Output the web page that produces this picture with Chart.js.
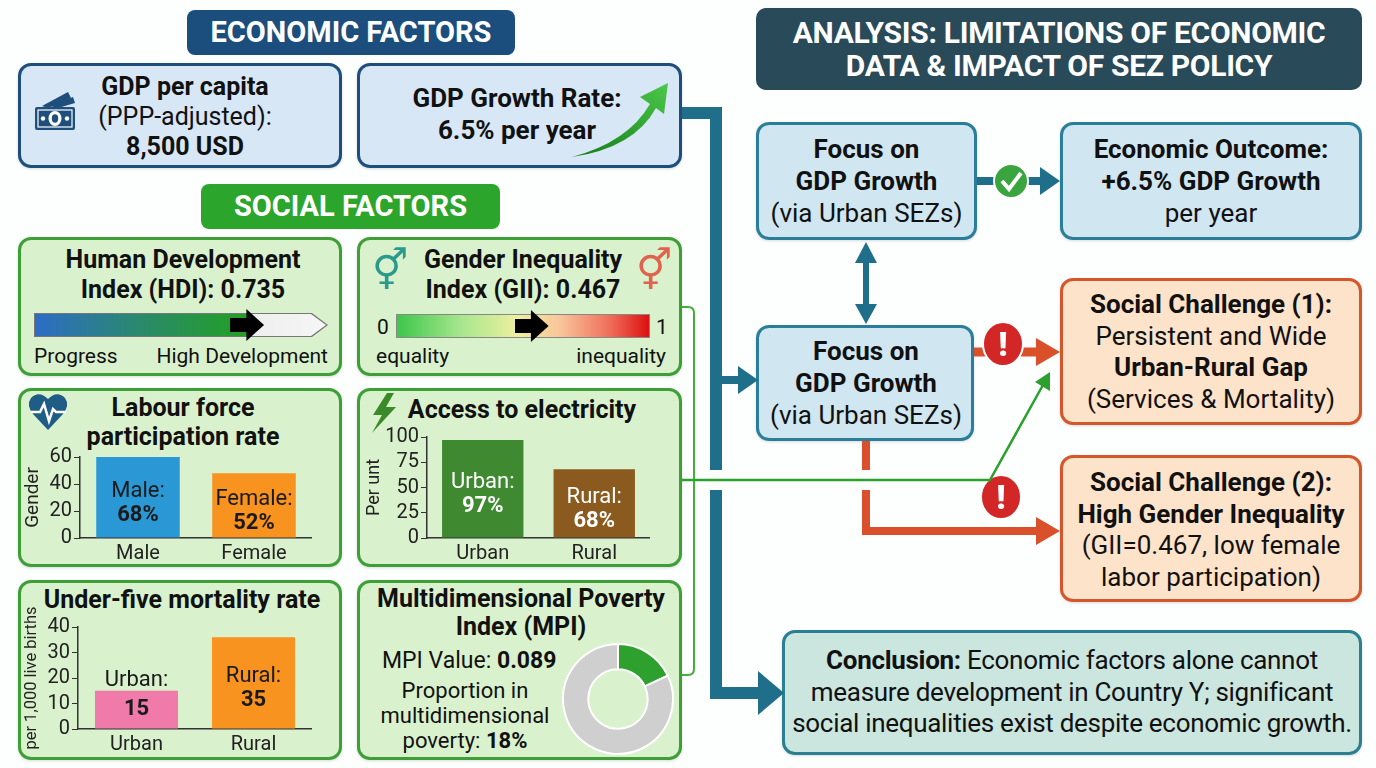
<!DOCTYPE html>
<html>
<head>
<meta charset="utf-8">
<script src="https://cdn.jsdelivr.net/npm/chart.js@4.4.0/dist/chart.umd.min.js"></script>
<style>
body{margin:0;background:#fff;font-family:Roboto,'Noto Sans',sans-serif;color:#111;}
#page{position:relative;width:1376px;height:768px;overflow:hidden;background:#fdfefe;}
.pill{position:absolute;color:#fff;font-weight:700;text-align:center;border-radius:8px;font-size:29px;}
.box{position:absolute;box-sizing:border-box;border-radius:13px;border:3px solid;box-shadow:0 1px 3px rgba(0,0,0,0.15);}
.eco{background:#d7e7f5;border-color:#1e4f7c;}
.soc{background:#d9f1cc;border-color:#3f9f37;}
.foc{background:#d0e6f1;border-color:#2b7e9a;}
.chl{background:#fde3c9;border-color:#d6562c;}
.con{background:#cbe6de;border-color:#2b7f90;}
.txt{position:absolute;text-align:center;font-size:25px;line-height:32px;white-space:nowrap;}
.small{position:absolute;font-size:21px;line-height:24px;white-space:nowrap;}
b{font-weight:700;}
.chart{position:absolute;}
.scalebar{position:absolute;height:24px;}
.marker{position:absolute;width:34px;height:32px;background:#000;
  clip-path:polygon(0 28%,48% 28%,48% 0,100% 50%,48% 100%,48% 72%,0 72%);}
svg{position:absolute;left:0;top:0;pointer-events:none;}
</style>
</head>
<body>
<div id="page">

  <div class="pill" style="left:187px;top:10px;width:328px;height:45px;line-height:45px;background:#1b4e7d;">ECONOMIC FACTORS</div>
  <div class="pill" style="left:201px;top:184px;width:299px;height:45px;line-height:45px;background:#2ca52c;">SOCIAL FACTORS</div>
  <div class="pill" style="left:756px;top:8px;width:606px;height:82px;line-height:33px;background:#284a59;padding-top:8px;box-sizing:border-box;border-radius:10px;font-size:30px;letter-spacing:-0.3px;">ANALYSIS: LIMITATIONS OF ECONOMIC<br>DATA &amp; IMPACT OF SEZ POLICY</div>

  <!-- economic boxes -->
  <div class="box eco" style="left:18px;top:63px;width:324px;height:105px;"></div>
  <div class="txt" style="left:20px;top:72px;width:330px;line-height:30px;font-size:25px;"><b>GDP per capita</b><br>(PPP-adjusted):<br><b>8,500 USD</b></div>
  <div class="box eco" style="left:357px;top:63px;width:325px;height:105px;"></div>
  <div class="txt" style="left:357px;top:82px;width:320px;font-size:26px;"><b>GDP Growth Rate:<br>6.5% per year</b></div>

  <!-- social boxes -->
  <div class="box soc" style="left:18px;top:237px;width:324px;height:139px;"></div>
  <div class="txt" style="left:18px;top:245px;width:330px;line-height:30px;"><b>Human Development<br>Index (HDI): 0.735</b></div>
  <div id="hdiBar" class="scalebar" style="left:34px;top:313px;width:294px;"></div>
  <div class="small" style="left:34px;top:344px;">Progress</div>
  <div class="small" style="left:150px;top:344px;width:178px;text-align:right;">High Development</div>

  <div class="box soc" style="left:357px;top:237px;width:325px;height:139px;"></div>
  <div class="txt" style="left:357px;top:245px;width:332px;line-height:30px;"><b>Gender Inequality<br>Index (GII): 0.467</b></div>
  <div id="giiBar" class="scalebar" style="left:396px;top:314px;width:254px;"></div>
  <div class="small" style="left:377px;top:315px;">0</div>
  <div class="small" style="left:656px;top:315px;">1</div>
  <div class="small" style="left:376px;top:344px;">equality</div>
  <div class="small" style="left:540px;top:344px;width:126px;text-align:right;">inequality</div>

  <div class="box soc" style="left:18px;top:388px;width:324px;height:179px;"></div>
  <div class="txt" style="left:18px;top:393px;width:330px;line-height:29px;"><b>Labour force<br>participation rate</b></div>
  <div class="chart" style="left:22px;top:443px;width:290px;height:125px;"><canvas id="laborChart"></canvas></div>

  <div class="box soc" style="left:357px;top:388px;width:325px;height:179px;"></div>
  <div class="txt" style="left:400px;top:394px;width:244px;"><b>Access to electricity</b></div>
  <div class="chart" style="left:364px;top:423px;width:286px;height:145px;"><canvas id="elecChart"></canvas></div>

  <div class="box soc" style="left:18px;top:580px;width:324px;height:180px;"></div>
  <div class="txt" style="left:18px;top:584px;width:328px;"><b>Under-five mortality rate</b></div>
  <div class="chart" style="left:22px;top:606px;width:290px;height:153px;"><canvas id="mortChart"></canvas></div>

  <div class="box soc" style="left:357px;top:580px;width:325px;height:180px;"></div>
  <div class="txt" style="left:357px;top:585px;width:328px;line-height:28px;"><b>Multidimensional Poverty<br>Index (MPI)</b></div>
  <div class="small" style="left:382px;top:649px;font-size:23px;">MPI Value: <b>0.089</b></div>
  <div class="small" style="left:380px;top:678px;width:170px;text-align:center;font-size:22px;line-height:25px;">Proportion in<br>multidimensional<br>poverty: <b>18%</b></div>
  <div class="chart" style="left:562px;top:643px;width:112px;height:112px;"><canvas id="mpiChart"></canvas></div>

  <!-- analysis side -->
  <div class="box foc" style="left:756px;top:122px;width:221px;height:118px;"></div>
  <div class="txt" style="left:756px;top:133px;width:221px;font-size:26px;"><b>Focus on<br>GDP Growth</b><br>(via Urban SEZs)</div>
  <div class="box foc" style="left:1060px;top:122px;width:302px;height:118px;"></div>
  <div class="txt" style="left:1060px;top:133px;width:302px;font-size:26px;"><b>Economic Outcome:<br>+6.5% GDP Growth</b><br>per year</div>
  <div class="box foc" style="left:756px;top:325px;width:218px;height:116px;"></div>
  <div class="txt" style="left:756px;top:335px;width:220px;font-size:26px;"><b>Focus on<br>GDP Growth</b><br>(via Urban SEZs)</div>

  <div class="box chl" style="left:1060px;top:278px;width:302px;height:147px;"></div>
  <div class="txt" style="left:1060px;top:289px;width:302px;font-size:26px;line-height:31.7px;"><b>Social Challenge (1):</b><br>Persistent and Wide<br><b>Urban-Rural Gap</b><br>(Services &amp; Mortality)</div>
  <div class="box chl" style="left:1060px;top:455px;width:302px;height:147px;"></div>
  <div class="txt" style="left:1060px;top:467px;width:302px;font-size:26px;line-height:31.7px;"><b>Social Challenge (2):<br>High Gender Inequality</b><br>(GII=0.467, low female<br>labor participation)</div>

  <div class="box con" style="left:782px;top:630px;width:580px;height:125px;"></div>
  <div class="txt" style="left:782px;top:645px;width:580px;font-size:26px;line-height:31.5px;letter-spacing:-0.3px;"><b>Conclusion:</b> Economic factors alone cannot<br>measure development in Country Y; significant<br>social inequalities exist despite economic growth.</div>

  <svg width="1376" height="768" viewBox="0 0 1376 768">
    <defs>
      <linearGradient id="gArrow" x1="0" y1="1" x2="1" y2="0">
        <stop offset="0" stop-color="#137a17"/>
        <stop offset="1" stop-color="#4cc84a"/>
      </linearGradient>
    </defs>
    <!-- green bracket and link -->
    <path d="M682 307 H688 Q694 307 694 313 V669 Q694 675 688 675 H682" fill="none" stroke="#45ad3a" stroke-width="2"/>
    <!-- teal trunk -->
    <path d="M682 113 H716 V470 M716 490 V693 H762" fill="none" stroke="#1f6f8a" stroke-width="12"/>
    <polygon points="758,671 784,693 758,715" fill="#1f6f8a"/>
    <path d="M722 380 H742" stroke="#1f6f8a" stroke-width="8"/>
    <polygon points="738,366 758,380 738,394" fill="#1f6f8a"/>
    <!-- double arrow -->
    <path d="M866 258 V309" stroke="#1f6f8a" stroke-width="6"/>
    <polygon points="855,263 866,242 877,263" fill="#1f6f8a"/>
    <polygon points="855,304 866,324 877,304" fill="#1f6f8a"/>
    <!-- focus1 -> outcome -->
    <path d="M977 181 H1042" stroke="#1f6f8a" stroke-width="8"/>
    <polygon points="1040,167 1060,181 1040,195" fill="#1f6f8a"/>
    <circle cx="1011" cy="181" r="17" fill="#3aa53e" stroke="#fff" stroke-width="2"/>
    <polyline points="1002,181 1009,189 1021,173" fill="none" stroke="#fff" stroke-width="4"/>
    <!-- red arrows -->
    <path d="M974 352 H1040" stroke="#d9502a" stroke-width="9"/>
    <polygon points="1036,338 1060,352 1036,366" fill="#d9502a"/>
    <path d="M866 441 V470 M866 490 V531 H1040" fill="none" stroke="#d9502a" stroke-width="8"/>
    <polygon points="1036,517 1060,531 1036,545" fill="#d9502a"/>
    <ellipse cx="1003" cy="344" rx="20" ry="22" fill="#d32626" stroke="#fff" stroke-width="2"/>
    <text x="1003" y="356" font-size="34" font-weight="900" fill="#fff" text-anchor="middle" font-family="Roboto">!</text>
    <ellipse cx="1001" cy="497" rx="20" ry="22" fill="#d32626" stroke="#fff" stroke-width="2"/>
    <text x="1001" y="509" font-size="34" font-weight="900" fill="#fff" text-anchor="middle" font-family="Roboto">!</text>
    <!-- green line to challenge 1 -->
    <polyline points="682,480 990,480 1043,385" fill="none" stroke="#2ca02c" stroke-width="2.5"/>
    <polygon points="1050,372 1050,391 1035,382" fill="#2ca02c"/>
    <!-- icons -->
    <g fill="#1d4e7c">
      <polygon points="42,106 68,92 71,98 48,108"/>
      <polygon points="50,106 73,97 75,103 58,108"/>
      <rect x="35" y="107" width="40" height="23" rx="2"/>
      <rect x="38" y="110" width="34" height="17" fill="none" stroke="#fff" stroke-width="1.2"/>
      <ellipse cx="55" cy="118.5" rx="6.5" ry="7.5" fill="#fff"/>
      <ellipse cx="55" cy="118.5" rx="3.2" ry="4.2"/>
      <circle cx="43" cy="118.5" r="2.2" fill="#fff"/>
      <circle cx="67" cy="118.5" r="2.2" fill="#fff"/>
    </g>
    <path d="M572 157 Q628 142 650 104 L640 97 L668 83 L664 114 L656 108 Q634 148 572 157 Z" fill="url(#gArrow)"/>
    <path d="M48 430 L33 414 Q26 405 31 398 Q39 390 48 399 Q57 390 65 398 Q70 405 63 414 Z" fill="#1f5c86"/>
    <polyline points="31,412 40,412 44,404 49,421 53,409 56,412 66,412" fill="none" stroke="#fff" stroke-width="2.5"/>
    <polygon points="387,393 373,415 382,415 372,433 396,407 386,407 394,393" fill="#3a8a2a"/>
    <text x="390" y="284" font-size="40" fill="#2a9a8c" text-anchor="middle" font-family="DejaVu Sans">⚥</text>
    <text x="654" y="284" font-size="40" fill="#e0634d" text-anchor="middle" font-family="DejaVu Sans">⚥</text>
  </svg>
</div>

<script>
// ---- data ----
const hdiValue = 0.735;
const giiValue = 0.467;

const laborLabels = ['Male', 'Female'];
const laborValues = [68, 48];
const laborNotes = ['68%', '52%'];

const elecLabels = ['Urban', 'Rural'];
const elecValues = [97, 68];
const elecNotes = ['97%', '68%'];

const mortLabels = ['Urban', 'Rural'];
const mortValues = [15, 36];
const mortNotes = ['15', '35'];

const mpiLabels = ['In poverty', 'Not in poverty'];
const mpiShares = [18, 82];

Chart.defaults.font.family = 'Roboto';
Chart.defaults.color = '#222';
Chart.defaults.animation = false;

// HDI + GII scale bars
const hdi = document.getElementById('hdiBar');
hdi.innerHTML =
  '<div style="position:absolute;inset:0;background:#777;clip-path:polygon(0 0,calc(100% - 16px) 0,100% 50%,calc(100% - 16px) 100%,0 100%);"></div>' +
  '<div style="position:absolute;left:1px;top:1px;right:2px;bottom:1px;background:linear-gradient(to right,#2d6cc6 0%,#2a8a6a ' + (hdiValue * 50) + '%,#22a022 ' + (hdiValue * 100) + '%,#eeeeee ' + (hdiValue * 100) + '%,#f6f6f6 100%);clip-path:polygon(0 0,calc(100% - 15px) 0,100% 50%,calc(100% - 15px) 100%,0 100%);"></div>' +
  '<div class="marker" style="left:' + (hdiValue * 294 - 20) + 'px;top:-4px;"></div>';

const gii = document.getElementById('giiBar');
gii.innerHTML =
  '<div style="position:absolute;inset:0;border:1px solid #888;background:linear-gradient(to right,#3dc64a 0%,#a6e68e 25%,#eef09e 48%,#f9c49a 65%,#ef6b58 85%,#dc1010 100%);"></div>' +
  '<div class="marker" style="left:' + (giiValue * 254) + 'px;top:-4px;"></div>';

// labels inside bars
const barNotes = {
  id: 'barNotes',
  afterDatasetsDraw(chart, args, opts) {
    const ctx = chart.ctx;
    const area = chart.chartArea;
    chart.getDatasetMeta(0).data.forEach((bar, i) => {
      const top = Math.max(bar.y, area.top);
      const mid = (top + bar.base) / 2;
      let y1 = mid - 6, y2 = mid + 18;
      if (bar.base - top < 60) { y2 = mid; y1 = mid - 29; }
      ctx.save();
      ctx.fillStyle = opts.color;
      ctx.textAlign = 'center';
      ctx.textBaseline = 'middle';
      ctx.font = '22px Roboto';
      ctx.fillText(chart.data.labels[i] + ':', bar.x, y1);
      ctx.font = 'bold 22px Roboto';
      ctx.fillText(opts.notes[i], bar.x, y2);
      ctx.restore();
    });
  }
};

function barChart(id, labels, values, colors, max, step, title, titleSize, notes, noteColor, yWidth, barPct, padTop) {
  return new Chart(document.getElementById(id), {
    type: 'bar',
    data: {
      labels: labels,
      datasets: [{ data: values, backgroundColor: colors, barPercentage: barPct, categoryPercentage: 1 }]
    },
    options: {
      responsive: true,
      maintainAspectRatio: false,
      layout: { padding: { top: padTop, right: 0, left: 0, bottom: 0 } },
      plugins: {
        legend: { display: false },
        tooltip: { enabled: false },
        barNotes: { notes: notes, color: noteColor }
      },
      scales: {
        x: {
          grid: { display: true, drawOnChartArea: false, drawTicks: false },
          border: { color: '#333', width: 1.5 },
          ticks: { font: { size: 20 }, padding: 4, color: '#222' },
          afterFit: s => { s.height = 30; }
        },
        y: {
          min: 0, max: max,
          grid: { drawOnChartArea: false, drawTicks: true, tickLength: 6, color: '#333' },
          border: { color: '#333', width: 1.5 },
          ticks: { stepSize: step, autoSkip: false, font: { size: 20 }, padding: 2, color: '#222' },
          title: { display: true, text: title, font: { size: titleSize }, padding: 0, color: '#222' },
          afterFit: s => { s.width = yWidth; }
        }
      }
    },
    plugins: [barNotes]
  });
}

barChart('laborChart', laborLabels, laborValues, ['#2b98d6', '#f7931e'], 60, 20, 'Gender', 19, laborNotes, '#1a1a1a', 58, 0.72, 0);
barChart('elecChart', elecLabels, elecValues, ['#3f8a30', '#8b5a1e'], 100, 25, 'Per unt', 18, elecNotes, '#ffffff', 63, 0.73, 0);
barChart('mortChart', mortLabels, mortValues, ['#f07aaa', '#f7931e'], 40, 10, 'per 1,000 live births', 16.5, mortNotes, '#1a1a1a', 56, 0.71, 21);

new Chart(document.getElementById('mpiChart'), {
  type: 'doughnut',
  data: {
    labels: mpiLabels,
    datasets: [{ data: mpiShares, backgroundColor: ['#2ea02e', '#cfcfcf'], borderColor: '#ffffff', borderWidth: 2 }]
  },
  options: {
    responsive: true,
    maintainAspectRatio: false,
    cutout: '54%',
    plugins: { legend: { display: false }, tooltip: { enabled: false } }
  }
});
</script>
</body>
</html>
